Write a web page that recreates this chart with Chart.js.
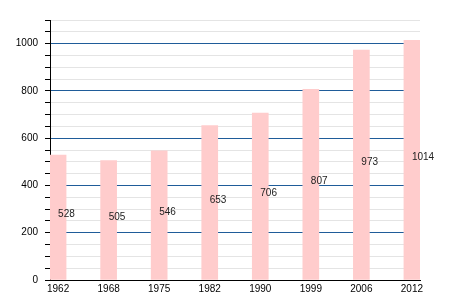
<!DOCTYPE html>
<html>
<head>
<meta charset="utf-8">
<script src="https://cdn.jsdelivr.net/npm/chart.js@4"></script>
<style>
  html, body { margin: 0; padding: 0; background: #fff; }
  #wrap { width: 450px; height: 300px; }
</style>
</head>
<body>
<div id="wrap"><canvas id="c" width="450" height="300"></canvas></div>
<script>
const years = ['1962', '1968', '1975', '1982', '1990', '1999', '2006', '2012'];
const population = [528, 505, 546, 653, 706, 807, 973, 1014];
const yTickLabels = [0, 200, 400, 600, 800, 1000];

const points = population.map((v, i) => ({ x: i, y: v }));

const valueLabels = {
  id: 'valueLabels',
  afterDatasetsDraw(chart) {
    const ctx = chart.ctx;
    const xs = chart.scales.x, ys = chart.scales.y;
    ctx.save();
    ctx.font = '10px "Liberation Sans", Arial, sans-serif';
    ctx.fillStyle = '#222';
    ctx.textAlign = 'left';
    ctx.textBaseline = 'middle';
    population.forEach((v, i) => {
      const x = xs.getPixelForValue(i);
      const y = ys.getPixelForValue(v / 2) - 3;
      ctx.fillText(String(v), x, y);
    });
    ctx.restore();
  }
};

new Chart(document.getElementById('c'), {
  type: 'bar',
  data: {
    datasets: [{
      data: points,
      backgroundColor: '#ffcccc',
      borderWidth: 0,
      barThickness: 16
    }]
  },
  options: {
    responsive: false,
    animation: false,
    layout: { padding: { top: 20, right: 30, left: 0, bottom: 0 } },
    plugins: { legend: { display: false }, tooltip: { enabled: false } },
    scales: {
      x: {
        type: 'linear',
        offset: false,
        min: -0.16,
        max: 7.16,
        afterBuildTicks(scale) {
          scale.ticks = years.map((y, i) => ({ value: i }));
        },
        afterFit(scale) { scale.height = 20; },
        grid: { display: false, drawTicks: false },
        border: { display: true, color: '#000', width: 1 },
        ticks: {
          autoSkip: false,
          maxRotation: 0,
          padding: 3,
          color: '#000',
          font: { family: '"Liberation Sans", Arial, sans-serif', size: 10 },
          callback: (v) => years[v]
        }
      },
      y: {
        min: 0,
        max: 1100,
        afterFit(scale) { scale.width = 50; },
        afterBuildTicks(scale) {
          const t = [];
          for (let v = 0; v <= 1100; v += 50) t.push({ value: v });
          scale.ticks = t;
        },
        border: { display: true, color: '#000', width: 1 },
        grid: {
          drawTicks: true,
          tickLength: 5,
          tickColor: '#000',
          lineWidth: 1,
          color: (ctx) => {
            const v = ctx.tick ? ctx.tick.value : 0;
            if (v === 0) return 'rgba(0,0,0,0)';
            return (v % 200 === 0) ? '#1f5c99' : '#e4e4e4';
          }
        },
        ticks: {
          autoSkip: false,
          padding: 7,
          color: '#000',
          font: { family: '"Liberation Sans", Arial, sans-serif', size: 10 },
          callback: (v) => yTickLabels.includes(v) ? String(v) : ''
        }
      }
    }
  },
  plugins: [valueLabels]
});
</script>
</body>
</html>
